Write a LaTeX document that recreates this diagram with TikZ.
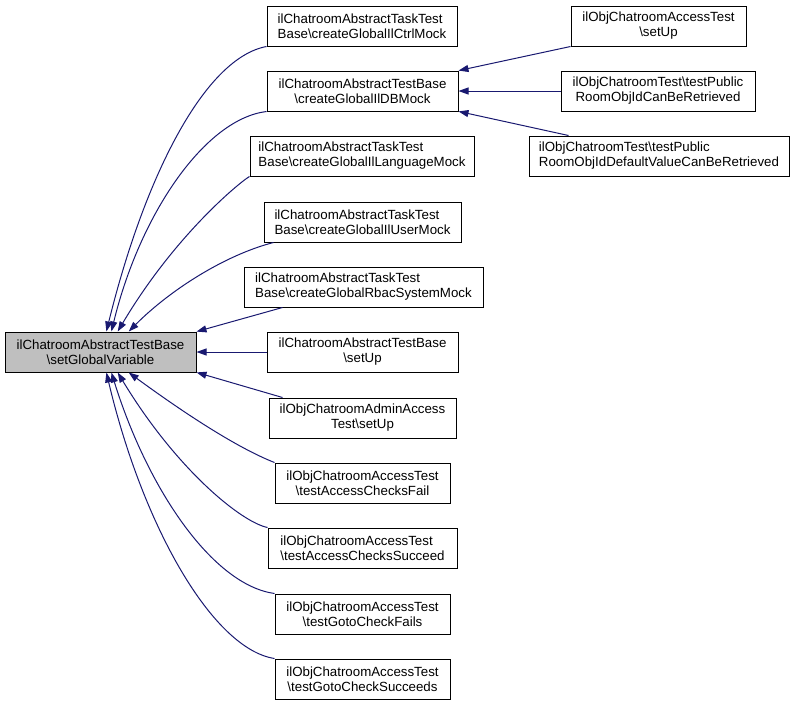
\documentclass[tikz,border=0pt]{standalone}
\usepackage{fontspec}
\setmainfont{Liberation Sans}
\usetikzlibrary{arrows.meta,calc}
\definecolor{navy}{HTML}{191970}
\definecolor{curfill}{HTML}{BFBFBF}
\tikzset{
  fn/.style={draw=black,line width=1pt,minimum height=40pt,inner sep=0pt,
    align=center,font=\fontsize{13.3}{15}\selectfont},
  fnl/.style={fn,align=left},
  call/.style={draw=navy,line width=1pt,-{Triangle[length=10pt,width=7pt]}}
}
\begin{document}
\begin{tikzpicture}[x=1pt,y=-1pt]
      \useasboundingbox (0,0) rectangle (793,705);
      \node[fn,fill=curfill,minimum width=191] (main) at (100.5,352)
        {ilChatroomAbstractTestBase\\\textbackslash setGlobalVariable};
      \node[fnl,minimum width=190] (ctrl) at (362,26)
        {ilChatroomAbstractTaskTest\\Base\textbackslash createGlobalIlCtrlMock};
      \node[fn,minimum width=191] (dbmock) at (362.5,91)
        {ilChatroomAbstractTestBase\\\textbackslash createGlobalIlDBMock};
      \node[fnl,minimum width=224] (lang) at (362,156)
        {ilChatroomAbstractTaskTest\\Base\textbackslash createGlobalIlLanguageMock};
      \node[fnl,minimum width=197] (user) at (362.5,222)
        {ilChatroomAbstractTaskTest\\Base\textbackslash createGlobalIlUserMock};
      \node[fnl,minimum width=239] (rbac) at (363.5,287)
        {ilChatroomAbstractTaskTest\\Base\textbackslash createGlobalRbacSystemMock};
      \node[fn,minimum width=191] (basesetup) at (362.5,352)
        {ilChatroomAbstractTestBase\\\textbackslash setUp};
      \node[fn,minimum width=187] (admin) at (362.5,418)
        {ilObjChatroomAdminAccess\\Test\textbackslash setUp};
      \node[fn,minimum width=175] (chkfail) at (362.5,483)
        {ilObjChatroomAccessTest\\\textbackslash testAccessChecksFail};
      \node[fnl,minimum width=189] (chkok) at (362.5,548)
        {ilObjChatroomAccessTest\\\textbackslash testAccessChecksSucceed};
      \node[fn,minimum width=175] (gotofail) at (362.5,614)
        {ilObjChatroomAccessTest\\\textbackslash testGotoCheckFails};
      \node[fn,minimum width=175] (gotook) at (362.5,679)
        {ilObjChatroomAccessTest\\\textbackslash testGotoCheckSucceeds};
      \node[fn,minimum width=175] (accsetup) at (658.5,26)
        {ilObjChatroomAccessTest\\\textbackslash setUp};
      \node[fn,minimum width=194] (pubid) at (658,91)
        {ilObjChatroomTest\textbackslash testPublic\\RoomObjIdCanBeRetrieved};
      \node[fnl,minimum width=260] (pubdef) at (659,156)
        {ilObjChatroomTest\textbackslash testPublic\\RoomObjIdDefaultValueCanBeRetrieved};
      \begin{scope}[call]
        \draw (ctrl.south west) .. controls (205,58) and (145,175) .. (main.74.6);
        \draw (dbmock.south west) .. controls (205,119) and (140,214) .. (main.62.3);
        \draw (lang.south west) .. controls (240,182) and (175,235) .. (main.50.5);
        \draw ($(user.south west)+(10,0)$) .. controls (225,255) and (170,290) .. (main.36);
        \draw ($(rbac.south west)+(39,0)$) -- (main.12.6);
        \draw (basesetup.west) -- (main.east);
        \draw ($(admin.north west)+(14,0)$) -- (main.-12.6);
        \draw (chkfail.north west) .. controls (235,447) and (180,410) .. (main.-36);
        \draw (chkok.north west) .. controls (241,522) and (176,469) .. (main.-50.5);
        \draw (gotofail.north west) .. controls (213,585) and (148,490) .. (main.-62.3);
        \draw (gotook.north west) .. controls (213,649) and (143,527) .. (main.-74.6);
        \draw (accsetup.south west) -- (dbmock.12.5);
        \draw (pubid.west) -- (dbmock.east);
        \draw ($(pubdef.north west)+(40,0)$) -- (dbmock.-12.5);
      \end{scope}
    \end{tikzpicture}
\end{document}
